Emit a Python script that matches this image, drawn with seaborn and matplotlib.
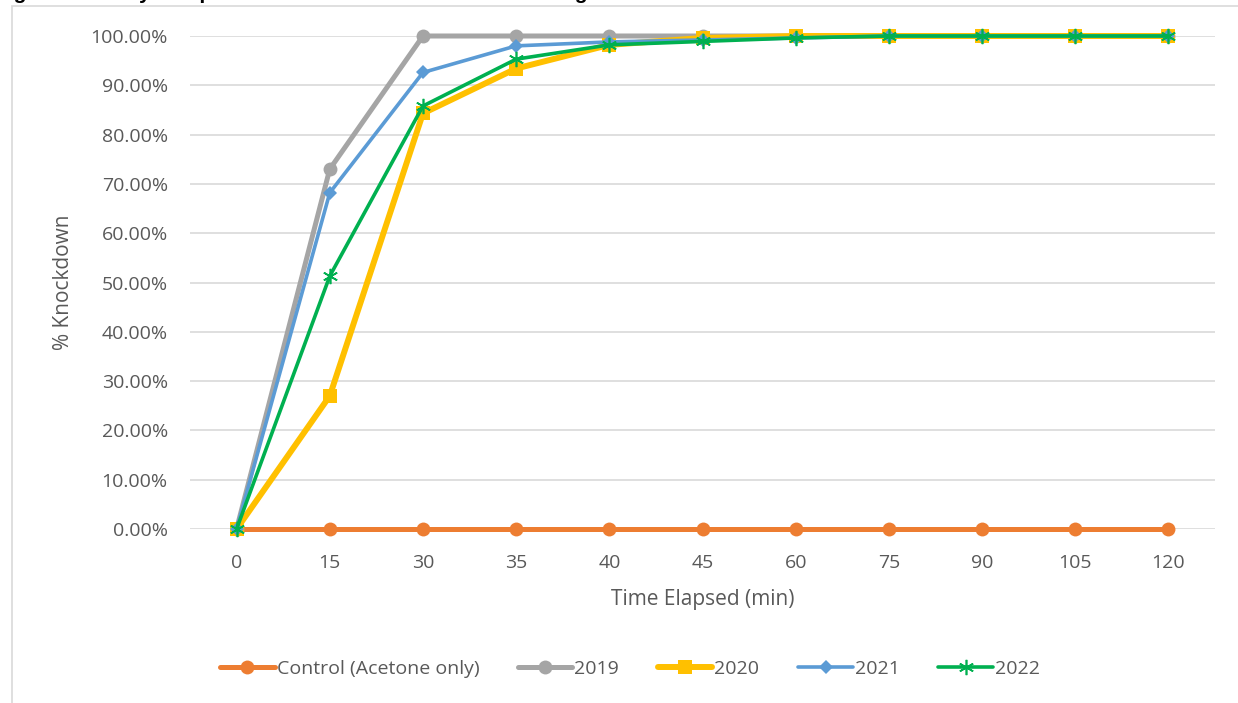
import numpy as np
import pandas as pd
import matplotlib.pyplot as plt
import seaborn as sns
from matplotlib.patches import Rectangle

# data
time_labels = ["0", "15", "30", "35", "40", "45", "60", "75", "90", "105", "120"]
control = [0, 0, 0, 0, 0, 0, 0, 0, 0, 0, 0]
y2019 = [0, 73.0, 100, 100, 100, 100, 100, 100, 100, 100, 100]
y2020 = [0, 27.0, 84.3, 93.4, 98.2, 99.6, 100, 100, 100, 100, 100]
y2021 = [0, 68.2, 92.6, 98.0, 98.8, 99.2, 99.6, 100, 100, 100, 100]
y2022 = [0, 51.3, 85.8, 95.3, 98.2, 98.9, 99.6, 100, 100, 100, 100]

series_names = ["Control (Acetone only)", "2019", "2020", "2021", "2022"]
series_values = [control, y2019, y2020, y2021, y2022]

df = pd.concat([
    pd.DataFrame({"pos": np.arange(len(time_labels)), "pct": vals, "series": name})
    for name, vals in zip(series_names, series_values)
])

sns.set_theme(style="white")
plt.rcParams["font.family"] = ["Open Sans", "DejaVu Sans"]

fig = plt.figure(figsize=(12.38, 7.03), dpi=100)
ax = fig.add_axes([190 / 1238, 1 - 529 / 703, 1025 / 1238, 493 / 703])

styles = {
    "Control (Acetone only)": dict(color="#ED7D31", lw=3.6, marker="o", ms=10, mew=0),
    "2019": dict(color="#A5A5A5", lw=3.6, marker="o", ms=10, mew=0),
    "2020": dict(color="#FFC000", lw=4.3, marker="s", ms=10, mew=0),
    "2021": dict(color="#5B9BD5", lw=2.6, marker="D", ms=7, mew=0),
    "2022": dict(color="#00B050", lw=2.6, marker=(6, 2, 0), ms=11, mew=1.2),
}

for name in series_names:
    st = styles[name]
    sns.lineplot(data=df[df["series"] == name], x="pos", y="pct", ax=ax,
                 color=st["color"], linewidth=st["lw"], marker=st["marker"],
                 markersize=st["ms"], markeredgewidth=st["mew"],
                 markeredgecolor=st["color"], label=name, zorder=3,
                 clip_on=False)

ax.set_xlim(-0.5, len(time_labels) - 0.5)
ax.set_ylim(0, 100)
ax.set_xticks(np.arange(len(time_labels)))
ax.set_xticklabels(time_labels)
ax.set_yticks(np.arange(0, 101, 10))
ax.set_yticklabels([f"{v:.2f}%" for v in range(0, 101, 10)])
ax.tick_params(axis="y", length=0, labelsize=14, colors="#595959", pad=16)
ax.tick_params(axis="x", length=0, labelsize=14, colors="#595959", pad=18)
ax.grid(axis="y", color="#D9D9D9", linewidth=1.2)
ax.grid(axis="x", visible=False)
for s in ax.spines.values():
    s.set_visible(False)
ax.set_axisbelow(True)

ax.set_xlabel("Time Elapsed (min)", fontsize=15, color="#595959", labelpad=12)
ax.set_ylabel("% Knockdown", fontsize=15, color="#595959", labelpad=12)

handles, labels = ax.get_legend_handles_labels()
ax.legend(handles, labels, loc="center", bbox_to_anchor=(630 / 1238, 1 - 669 / 703),
          bbox_transform=fig.transFigure, ncol=5, frameon=False, fontsize=14,
          handlelength=2.8, columnspacing=2.0, handletextpad=0.1,
          labelcolor="#595959")

# chart frame and clipped caption above it
fig.patches.append(Rectangle((12 / 1238, -0.02), 1.1, 1 - 6 / 703 + 0.02,
                             transform=fig.transFigure, fill=False,
                             edgecolor="#D9D9D9", linewidth=1.2))
fig.text(-0.004, 1 + 1 / 703,
         "Figure 4: Yearly comparison of knockdown rates at the diagnostic concentration over time",
         fontsize=15, fontweight="bold", va="baseline", ha="left", color="black",
         family=["Liberation Sans", "DejaVu Sans"])

fig.savefig("out.png", dpi=100)
